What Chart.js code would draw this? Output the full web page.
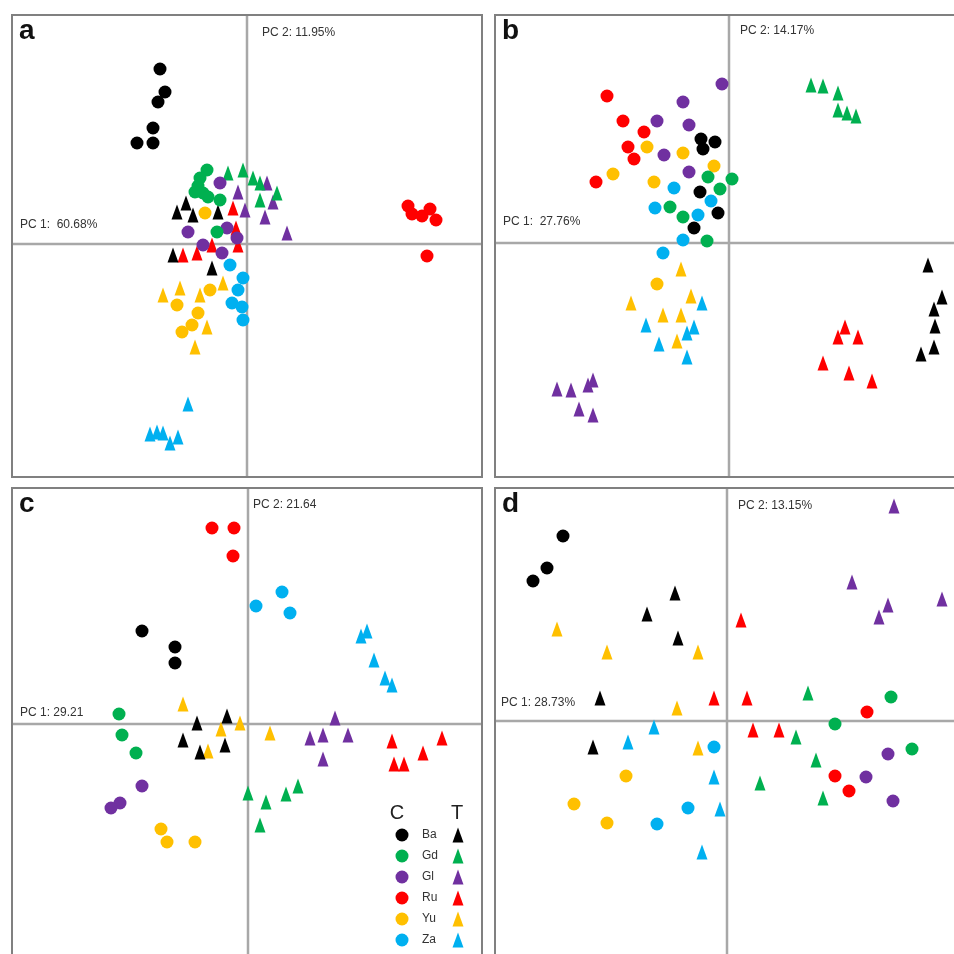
<!DOCTYPE html>
<html>
<head>
<meta charset="utf-8">
<script src="https://cdn.jsdelivr.net/npm/chart.js@4.4.1/dist/chart.umd.min.js"></script>
<style>
  html, body { margin: 0; padding: 0; background: #fff; width: 954px; height: 954px; overflow: hidden; }
  .panel { position: absolute; }
</style>
</head>
<body>
<div class="panel" style="left:11px;top:14px;width:472px;height:464px"><canvas id="ca"></canvas></div>
<div class="panel" style="left:494px;top:14px;width:462px;height:464px"><canvas id="cb"></canvas></div>
<div class="panel" style="left:11px;top:487px;width:472px;height:469px"><canvas id="cc"></canvas></div>
<div class="panel" style="left:494px;top:487px;width:462px;height:469px"><canvas id="cd"></canvas></div>
<script>
// grupos y colores (C = círculo, T = triángulo)
const groups = ['Ba', 'Gd', 'Gl', 'Ru', 'Yu', 'Za'];
const colors = ['#000000', '#00b050', '#7030a0', '#ff0000', '#ffc000', '#00b0f0'];
const letters = ['a', 'b', 'c', 'd'];
const pc1Labels = ['PC 1:  60.68%', 'PC 1:  27.76%', 'PC 1: 29.21', 'PC 1: 28.73%'];
const pc2Labels = ['PC 2: 11.95%', 'PC 2: 14.17%', 'PC 2: 21.64', 'PC 2: 13.15%'];

// Panel a: puntuaciones [PC1, PC2], en orden Ba, Gd, Gl, Ru, Yu, Za
const aCircles = [
  [[-8.7,17.5],[-8.2,15.2],[-8.9,14.2],[-9.4,11.6],[-11.0,10.1],[-9.4,10.1]],
  [[-4.0,7.4],[-4.7,6.6],[-4.9,5.8],[-5.2,5.2],[-4.4,5.1],[-3.9,4.7],[-2.7,4.4],[-3.0,1.2]],
  [[-2.7,6.1],[-5.9,1.2],[-4.4,-0.1],[-2.0,1.6],[-1.0,0.6],[-2.5,-0.9]],
  [[16.1,3.8],[16.5,3.0],[17.5,2.8],[18.3,3.5],[18.9,2.4],[18.0,-1.2]],
  [[-4.2,3.1],[-3.7,-4.6],[-7.0,-6.1],[-4.9,-6.9],[-5.5,-8.1],[-6.5,-8.8]],
  [[-1.7,-2.1],[-0.4,-3.4],[-0.9,-4.6],[-1.5,-5.9],[-0.5,-6.3],[-0.4,-7.6]]
];
const aTriangles = [
  [[-7.0,3.2],[-6.1,4.1],[-5.4,2.9],[-2.9,3.2],[-7.4,-1.1],[-3.5,-2.4]],
  [[-1.9,7.1],[-0.4,7.4],[0.6,6.6],[1.3,6.1],[3.0,5.1],[1.3,4.4]],
  [[2.0,6.1],[-0.9,5.2],[2.6,4.2],[-0.2,3.4],[1.8,2.7],[4.0,1.1]],
  [[-1.4,3.6],[-1.1,1.6],[-0.9,-0.1],[-3.5,-0.1],[-5.0,-0.9],[-6.4,-1.1]],
  [[-8.4,-5.1],[-6.7,-4.4],[-4.7,-5.1],[-2.4,-3.9],[-4.0,-8.3],[-5.2,-10.3]],
  [[-5.9,-16.0],[-9.7,-19.0],[-9.0,-18.8],[-8.4,-18.9],[-7.7,-19.9],[-6.9,-19.3]]
];

// Panel b
const bCircles = [
  [[-2.8,10.4],[-1.4,10.1],[-2.6,9.4],[-2.9,5.1],[-1.1,3.0],[-3.5,1.5]],
  [[-2.1,6.6],[0.3,6.4],[-0.9,5.4],[-5.9,3.6],[-4.6,2.6],[-2.2,0.2]],
  [[-0.7,15.9],[-4.6,14.1],[-7.2,12.2],[-4.0,11.8],[-6.5,8.8],[-4.0,7.1]],
  [[-12.2,14.7],[-10.6,12.2],[-8.5,11.1],[-10.1,9.6],[-9.5,8.4],[-13.3,6.1]],
  [[-8.2,9.6],[-11.6,6.9],[-4.6,9.0],[-1.5,7.7],[-7.5,6.1],[-7.2,-4.1]],
  [[-5.5,5.5],[-7.4,3.5],[-1.8,4.2],[-3.1,2.8],[-4.6,0.3],[-6.6,-1.0]]
];
const bTriangles = [
  [[19.9,-2.2],[21.3,-5.4],[20.5,-6.6],[20.6,-8.3],[20.5,-10.4],[19.2,-11.1]],
  [[8.2,15.8],[9.4,15.7],[10.9,15.0],[10.9,13.3],[11.8,13.0],[12.7,12.7]],
  [[-17.2,-14.6],[-15.8,-14.7],[-14.1,-14.2],[-13.6,-13.7],[-15.0,-16.6],[-13.6,-17.2]],
  [[11.6,-8.4],[10.9,-9.4],[12.9,-9.4],[9.4,-12.0],[12.0,-13.0],[14.3,-13.8]],
  [[-4.8,-2.6],[-9.8,-6.0],[-3.8,-5.3],[-6.6,-7.2],[-4.8,-7.2],[-5.2,-9.8]],
  [[-2.7,-6.0],[-8.3,-8.2],[-3.5,-8.4],[-4.2,-9.0],[-7.0,-10.1],[-4.2,-11.4]]
];

// Panel c
const cCircles = [
  [[-10.6,9.3],[-7.3,7.7],[-7.3,6.1]],
  [[-12.9,1.0],[-12.6,-1.1],[-11.2,-2.9]],
  [[-10.6,-6.2],[-12.8,-7.9],[-13.7,-8.4]],
  [[-3.6,19.6],[-1.4,19.6],[-1.5,16.8]],
  [[-8.7,-10.5],[-8.1,-11.8],[-5.3,-11.8]],
  [[0.8,11.8],[3.4,13.2],[4.2,11.1]]
];
const cTriangles = [
  [[-6.5,-1.6],[-5.1,0.1],[-4.8,-2.8],[-2.3,-2.1],[-2.1,0.8]],
  [[0.0,-6.9],[1.8,-7.8],[1.2,-10.1],[3.8,-7.0],[5.0,-6.2]],
  [[6.2,-1.4],[7.5,-1.1],[8.7,0.6],[10.0,-1.1],[7.5,-3.5]],
  [[14.4,-1.7],[14.6,-4.0],[15.6,-4.0],[17.5,-2.9],[19.4,-1.4]],
  [[-6.5,2.0],[-2.7,-0.5],[-4.0,-2.7],[-0.8,0.1],[2.2,-0.9]],
  [[11.3,8.8],[11.9,9.3],[12.6,6.4],[13.7,4.6],[14.4,3.9]]
];

// Panel d
const dCircles = [
  [[-16.4,18.5],[-18.0,15.3],[-19.4,14.0]],
  [[16.4,2.4],[10.8,-0.3],[18.5,-2.8]],
  [[16.1,-3.3],[13.9,-5.6],[16.6,-8.0]],
  [[14.0,0.9],[10.8,-5.5],[12.2,-7.0]],
  [[-10.1,-5.5],[-15.3,-8.3],[-12.0,-10.2]],
  [[-1.3,-2.6],[-3.9,-8.7],[-7.0,-10.3]]
];
const dTriangles = [
  [[-5.2,12.8],[-8.0,10.7],[-4.9,8.3],[-12.7,2.3],[-13.4,-2.6]],
  [[8.1,2.8],[6.9,-1.6],[8.9,-3.9],[3.3,-6.2],[9.6,-7.7]],
  [[16.7,21.5],[12.5,13.9],[16.1,11.6],[15.2,10.4],[21.5,12.2]],
  [[-1.3,2.3],[1.4,10.1],[2.0,2.3],[2.6,-0.9],[5.2,-0.9]],
  [[-17.0,9.2],[-12.0,6.9],[-2.9,6.9],[-5.0,1.3],[-2.9,-2.7]],
  [[-7.3,-0.6],[-9.9,-2.1],[-1.3,-5.6],[-0.7,-8.8],[-2.5,-13.1]]
];

// rangos de cada panel y posición de las etiquetas (px relativos)
const panels = [
  { id: 'ca', circles: aCircles, tris: aTriangles, x: [-23.6, 23.6], y: [-23.4, 23.0], pc2: [15, 19], pc1: [9, -19] },
  { id: 'cb', circles: bCircles, tris: bTriangles, x: [-23.5, 22.7], y: [-23.5, 22.9], pc2: [11, 17], pc1: [9, -21] },
  { id: 'cc', circles: cCircles, tris: cTriangles, x: [-23.7, 23.5], y: [-23.2, 23.7], pc2: [5, 18], pc1: [9, -11] },
  { id: 'cd', circles: dCircles, tris: dTriangles, x: [-23.3, 22.9], y: [-23.5, 23.4], pc2: [11, 19], pc1: [7, -18] }
];

// triángulo alto y estrecho como en la figura original
function makeTriangle(color) {
  const c = document.createElement('canvas');
  c.width = 12; c.height = 16;
  const g = c.getContext('2d');
  g.fillStyle = color;
  g.beginPath();
  g.moveTo(6, 0.5);
  g.lineTo(11.5, 15.5);
  g.lineTo(0.5, 15.5);
  g.closePath();
  g.fill();
  return c;
}
const triImages = colors.map(makeTriangle);

const labelFont = "12px 'Liberation Sans Narrow', 'Liberation Sans', Arial, sans-serif";

const pcaFrame = {
  id: 'pcaFrame',
  beforeDatasetsDraw(chart, args, opts) {
    const { ctx, chartArea: a, scales } = chart;
    const x0 = scales.x.getPixelForValue(0);
    const y0 = scales.y.getPixelForValue(0);
    ctx.save();
    ctx.strokeStyle = '#a8a8a8';
    ctx.lineWidth = 2.5;
    ctx.beginPath();
    ctx.moveTo(x0, a.top); ctx.lineTo(x0, a.bottom);
    ctx.moveTo(a.left, y0); ctx.lineTo(a.right, y0);
    ctx.stroke();
    ctx.restore();
  },
  afterDraw(chart, args, opts) {
    const { ctx, chartArea: a, scales } = chart;
    const x0 = scales.x.getPixelForValue(0);
    const y0 = scales.y.getPixelForValue(0);
    ctx.save();
    ctx.strokeStyle = '#808080';
    ctx.lineWidth = 2;
    ctx.strokeRect(a.left + 1, a.top + 1, a.right - a.left - 2, a.bottom - a.top - 2);

    ctx.fillStyle = '#111';
    ctx.font = "bold 28px 'Liberation Sans', Arial, sans-serif";
    ctx.textBaseline = 'alphabetic';
    ctx.fillText(opts.letter, a.left + 8, a.top + 25);

    ctx.fillStyle = '#333';
    ctx.font = labelFont;
    ctx.textBaseline = 'middle';
    ctx.fillText(opts.pc2, x0 + opts.pc2pos[0], a.top + opts.pc2pos[1]);
    ctx.fillText(opts.pc1, a.left + opts.pc1pos[0], y0 + opts.pc1pos[1]);

    if (opts.legend) {
      // leyenda C / T dentro del panel c
      ctx.fillStyle = '#222';
      ctx.font = "20px 'Liberation Sans', Arial, sans-serif";
      ctx.textAlign = 'center';
      ctx.fillText('C', a.left + 386, a.top + 326);
      ctx.fillText('T', a.left + 446, a.top + 326);
      ctx.textAlign = 'left';
      ctx.font = labelFont;
      groups.forEach((gname, i) => {
        const yy = a.top + 348 + i * 21;
        ctx.fillStyle = colors[i];
        ctx.beginPath();
        ctx.arc(a.left + 391, yy, 6.5, 0, Math.PI * 2);
        ctx.fill();
        ctx.drawImage(triImages[i], a.left + 441, yy - 8);
        ctx.fillStyle = '#333';
        ctx.fillText(gname, a.left + 411, yy);
      });
    }
    ctx.restore();
  }
};

function toPoints(list) {
  return list.map(p => ({ x: p[0], y: p[1] }));
}

function createPanel(p, idx) {
  const datasets = [];
  groups.forEach((gname, i) => {
    datasets.push({
      label: gname + ' C',
      data: toPoints(p.circles[i]),
      pointStyle: 'circle',
      pointRadius: 6.5,
      pointHoverRadius: 6.5,
      backgroundColor: colors[i],
      borderWidth: 0,
      clip: false
    });
  });
  groups.forEach((gname, i) => {
    datasets.push({
      label: gname + ' T',
      data: toPoints(p.tris[i]),
      pointStyle: triImages[i],
      pointRadius: 7,
      backgroundColor: colors[i],
      borderWidth: 0,
      clip: false
    });
  });

  new Chart(document.getElementById(p.id), {
    type: 'scatter',
    data: { datasets: datasets },
    options: {
      responsive: true,
      maintainAspectRatio: false,
      animation: false,
      layout: { padding: 0, autoPadding: false },
      scales: {
        x: { type: 'linear', display: false, min: p.x[0], max: p.x[1] },
        y: { type: 'linear', display: false, min: p.y[0], max: p.y[1] }
      },
      plugins: {
        legend: { display: false },
        tooltip: { enabled: false },
        pcaFrame: {
          letter: letters[idx],
          pc1: pc1Labels[idx],
          pc2: pc2Labels[idx],
          pc1pos: p.pc1,
          pc2pos: p.pc2,
          legend: idx === 2
        }
      }
    },
    plugins: [pcaFrame]
  });
}

panels.forEach(createPanel);
</script>
</body>
</html>
